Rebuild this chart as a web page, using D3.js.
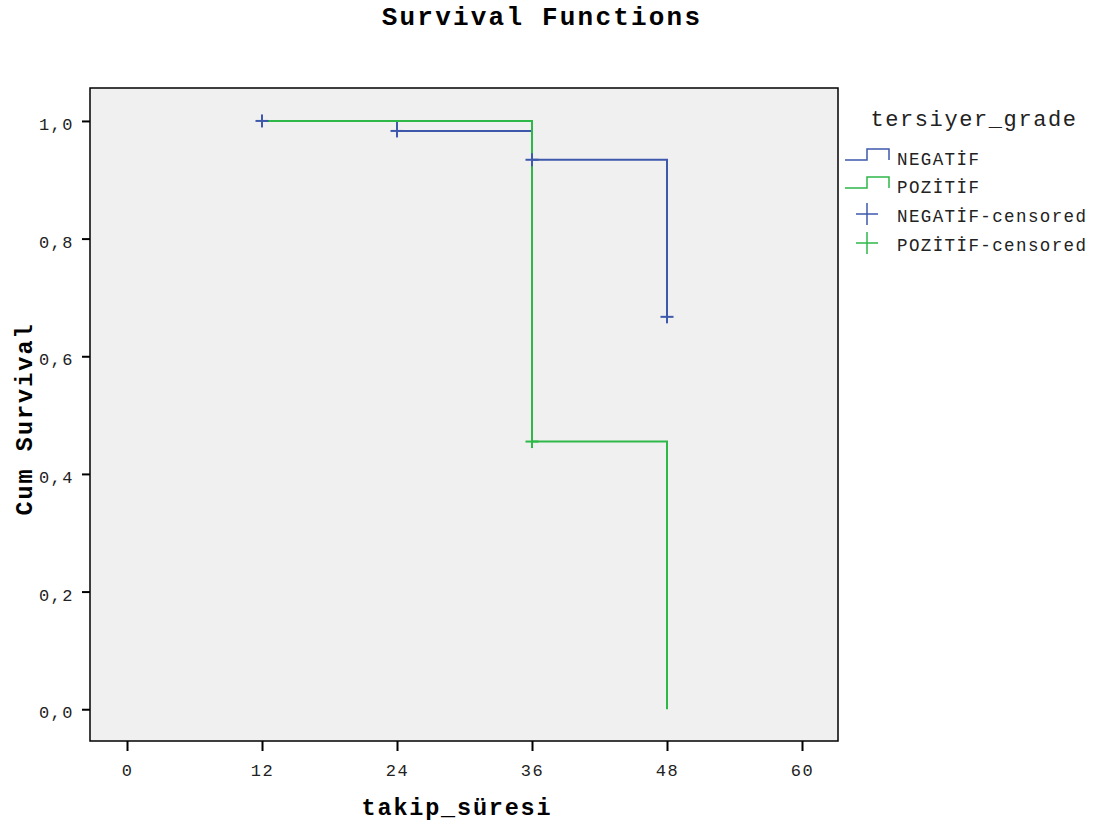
<!DOCTYPE html>
<html>
<head>
<meta charset="utf-8">
<script src="https://cdn.jsdelivr.net/npm/d3@7"></script>
<style>
  body { margin: 0; background: #fff; }
  text { font-family: "Liberation Mono", "Courier New", monospace; }
</style>
</head>
<body>
<svg id="chart" width="1097" height="832"></svg>
<script>
// survival steps: [time, cumulative survival]
const negatifSteps = [[12, 1.0], [24, 1.0], [24, 0.983], [36, 0.983], [36, 0.934], [48, 0.934], [48, 0.667]];
const pozitifSteps = [[12, 1.0], [36, 1.0], [36, 0.455], [48, 0.455], [48, 0.0]];
const negatifCensored = [[12, 1.0], [24, 0.983], [36, 0.934], [48, 0.667]];
const pozitifCensored = [[36, 0.455]];
const xTicks = [0, 12, 24, 36, 48, 60];
const yTicks = [0, 0.2, 0.4, 0.6, 0.8, 1.0];
const groups = ['NEGATİF', 'POZİTİF'];
const colors = { 'NEGATİF': '#3e58ac', 'POZİTİF': '#2eb848' };

const svg = d3.select('#chart');
const plot = { left: 90, top: 88, right: 838, bottom: 741 };

const x = d3.scaleLinear().domain([-3.29, 63.2]).range([plot.left, plot.right]);
const y = d3.scaleLinear().domain([-0.054, 1.056]).range([plot.bottom, plot.top]);

svg.append('rect')
    .attr('x', plot.left).attr('y', plot.top)
    .attr('width', plot.right - plot.left).attr('height', plot.bottom - plot.top)
    .attr('fill', '#f0f0f0').attr('stroke', '#000').attr('stroke-width', 1.5);

// axes
const fmt = d => d3.format('.1f')(d).replace('.', ',');
const yAxis = svg.append('g')
    .attr('transform', `translate(${plot.left},0)`)
    .call(d3.axisLeft(y).tickValues(yTicks).tickFormat(fmt).tickSize(8).tickPadding(8));
const xAxis = svg.append('g')
    .attr('transform', `translate(0,${plot.bottom})`)
    .call(d3.axisBottom(x).tickValues(xTicks).tickSize(10).tickPadding(13));
[yAxis, xAxis].forEach(a => {
    a.select('.domain').remove();
    a.selectAll('line').attr('stroke', '#000').attr('stroke-width', 2);
    a.selectAll('text').attr('font-size', 17).attr('fill', '#222')
        .style('letter-spacing', '1.5px')
        .style('font-family', '"Liberation Mono", monospace');
});
yAxis.selectAll('text').attr('dy', '0.5em');

// step lines
const line = d3.line().x(d => x(d[0])).y(d => y(d[1]));
svg.append('path').datum(negatifSteps)
    .attr('d', line).attr('fill', 'none')
    .attr('stroke', colors['NEGATİF']).attr('stroke-width', 2);
svg.append('path').datum(pozitifSteps)
    .attr('d', line).attr('fill', 'none')
    .attr('stroke', colors['POZİTİF']).attr('stroke-width', 2);

// censored marks
function drawPlus(g, cx, cy, color, r, w) {
    g.append('line').attr('x1', cx - r).attr('x2', cx + r).attr('y1', cy).attr('y2', cy)
        .attr('stroke', color).attr('stroke-width', w);
    g.append('line').attr('x1', cx).attr('x2', cx).attr('y1', cy - r).attr('y2', cy + r)
        .attr('stroke', color).attr('stroke-width', w);
}
const marks = svg.append('g');
pozitifCensored.forEach(d => drawPlus(marks, x(d[0]), y(d[1]), colors['POZİTİF'], 6.5, 2));
negatifCensored.forEach(d => drawPlus(marks, x(d[0]), y(d[1]), colors['NEGATİF'], 6.5, 2));

// titles
svg.append('text')
    .attr('x', 542).attr('y', 25)
    .attr('text-anchor', 'middle')
    .attr('font-size', 26).attr('font-weight', 'bold')
    .style('letter-spacing', '2.2px')
    .text('Survival Functions');
svg.append('text')
    .attr('x', 457).attr('y', 815)
    .attr('text-anchor', 'middle')
    .attr('font-size', 23.5).attr('font-weight', 'bold')
    .style('letter-spacing', '1.8px')
    .text('takip_süresi');
svg.append('text')
    .attr('transform', 'translate(32,419) rotate(-90)')
    .attr('text-anchor', 'middle')
    .attr('font-size', 23.5).attr('font-weight', 'bold')
    .style('letter-spacing', '2px')
    .text('Cum Survival');

// legend
const legend = svg.append('g');
legend.append('text')
    .attr('x', 974).attr('y', 126)
    .attr('text-anchor', 'middle')
    .attr('font-size', 22).attr('fill', '#222')
    .style('letter-spacing', '1.6px')
    .text('tersiyer_grade');

groups.forEach((g, i) => {
    const ly = 160 + i * 28;
    legend.append('path')
        .attr('d', `M845,${ly} H867 V${ly - 11} H889 V${ly}`)
        .attr('fill', 'none').attr('stroke', colors[g]).attr('stroke-width', 1.5);
    legend.append('text')
        .attr('x', 897).attr('y', ly + 5)
        .attr('font-size', 17.5).attr('fill', '#222')
        .style('letter-spacing', '1.4px')
        .text(g);
});
groups.forEach((g, i) => {
    const ly = 214 + i * 29;
    drawPlus(legend, 867, ly, colors[g], 11, 1.5);
    legend.append('text')
        .attr('x', 897).attr('y', ly + 8)
        .attr('font-size', 17.5).attr('fill', '#222')
        .style('letter-spacing', '1.4px')
        .text(g + '-censored');
});
</script>
</body>
</html>
